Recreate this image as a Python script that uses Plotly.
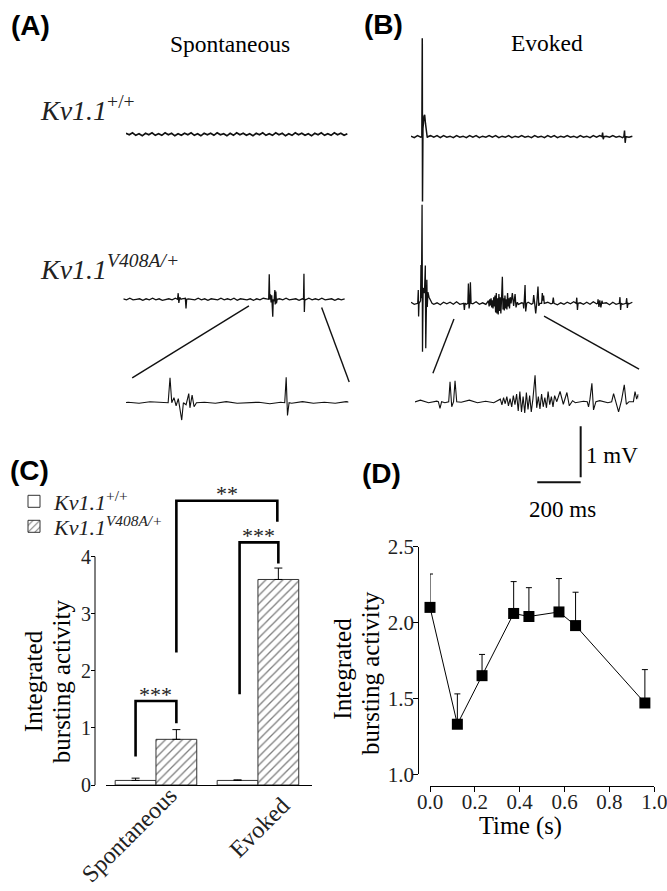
import plotly.graph_objects as go

W, H = 667, 891
SERIF = "Liberation Serif"
SANS = "Liberation Sans"
INK = "#111111"

# ---------------- Panel C data ----------------
groups = ["Spontaneous", "Evoked"]
group_pos = [0, 1]
wt_mean = [0.08, 0.08]
wt_sem = [0.04, 0.01]
mut_mean = [0.80, 3.60]
mut_sem = [0.17, 0.20]
genotype_labels = ["<i>Kv1.1</i><sup>+/+</sup>", "<i>Kv1.1<sup>V408A/+</sup></i>"]

# significance brackets
br_left_x = [-0.2, 0.82, 0.2]
br_left_y = [0.50, 1.59, 2.32]
br_top_y = [1.47, 4.25, 4.98]
br_right_x = [0.2, 1.2, 1.19]
br_right_y = [1.08, 3.88, 4.61]
br_label = ["***", "***", "**"]

# ---------------- Panel D data ----------------
time_s = [0.0, 0.122, 0.232, 0.373, 0.441, 0.575, 0.649, 0.958]
burst_mean = [2.10, 1.33, 1.65, 2.06, 2.04, 2.07, 1.98, 1.47]
burst_sem = [0.22, 0.20, 0.14, 0.21, 0.19, 0.22, 0.22, 0.22]

# ---------------- Panels A/B: recordings (ms, mV) ----------------
noise_step_ms = 15
wt_spont_noise = [
    0.02, -0.01, 0.03, -0.02, 0.01, -0.03, 0.02, -0.01, 0.03, -0.02,
    0.01, -0.02, 0.03, -0.01, 0.02, -0.03, 0.01, -0.02, 0.02, -0.01,
    0.03, -0.02, 0.01, -0.03, 0.02, -0.01, 0.02, -0.02, 0.03, -0.01,
    0.01, -0.03, 0.02, -0.02, 0.03, -0.01, 0.02, -0.02, 0.01, -0.03,
    0.02, -0.01, 0.03, -0.02, 0.01, -0.02, 0.03, -0.01, 0.02, -0.03,
    0.01, -0.02, 0.03, -0.01, 0.02, -0.02, 0.01, -0.03, 0.02, -0.01,
    0.03, -0.02, 0.01, -0.02, 0.03, -0.01, 0.02, -0.02, 0.01]
mut_spont_noise = [
    0.01, -0.01, 0.02, -0.01, 0.00, 0.01, -0.02, 0.01, -0.01, 0.02,
    -0.01, 0.01, -0.02, 0.00, 0.01, -0.01, 0.02, -0.01, 0.01, -0.02,
    0.01, 0.00, -0.01, 0.02, -0.01, 0.01, -0.02, 0.01, 0.00, -0.01,
    0.02, -0.01, 0.01, -0.01, 0.02, -0.02, 0.01, 0.00, -0.01, 0.01,
    -0.02, 0.01, -0.01, 0.02, 0.00, -0.01, 0.01, -0.02, 0.01, -0.01,
    0.02, -0.01, 0.00, 0.01, -0.02, 0.01, -0.01, 0.02, -0.01, 0.01,
    -0.01, 0.02, -0.01, 0.00, 0.01, -0.02, 0.01, -0.01, 0.01]
wt_evoked_noise = [
    0.01, -0.02, 0.02, -0.01, 0.01, -0.02, 0.02, -0.01, 0.02, -0.02,
    0.02, -0.01, 0.01, -0.02, 0.02, -0.01, 0.01, -0.02, 0.02, -0.01,
    0.02, -0.02, 0.01, -0.01, 0.02, -0.01, 0.02, -0.02, 0.01, -0.01,
    0.02, -0.02, 0.01, -0.01, 0.02, -0.01, 0.01, -0.02, 0.02, -0.01,
    0.01, -0.02, 0.02, -0.01, 0.02, -0.02, 0.01, -0.01, 0.02, -0.01,
    0.01, -0.02, 0.02, -0.01, 0.01, -0.02, 0.02, -0.01, 0.02, -0.02,
    0.01, -0.01, 0.02, -0.01, 0.01, -0.02, 0.02, -0.01, 0.01]
mut_evoked_noise = [
    0.02, -0.02, 0.01, -0.02, 0.03, -0.01, 0.02, -0.02, 0.01, -0.03,
    0.02, -0.01, 0.02, -0.02, 0.03, -0.02, 0.01, -0.02, 0.02, -0.01,
    0.03, -0.02, 0.01, -0.02, 0.02, -0.03, 0.01, -0.01, 0.02, -0.02,
    0.03, -0.01, 0.02, -0.02, 0.01, -0.03, 0.02, -0.02, 0.01, -0.02,
    0.03, -0.02, 0.02, -0.01, 0.02, -0.03, 0.01, -0.02, 0.02, -0.01,
    0.03, -0.02, 0.01, -0.02, 0.02, -0.02, 0.03, -0.01, 0.02, -0.02,
    0.01, -0.03, 0.02, -0.02, 0.01, -0.02, 0.03, -0.01, 0.02]

wt_spont_ev_t = []
wt_spont_ev_v = []
mut_spont_ev_t = [250, 253, 256, 260, 266, 286, 289, 292,
                  670, 672.6, 675, 678, 681, 684, 688.7, 691, 694.7, 698.4, 700, 703, 705.7, 709,
                  830.5, 832.5, 834.3, 836.5]
mut_spont_ev_v = [0.0, 0.12, -0.07, 0.04, 0.0, 0.02, -0.18, 0.0,
                  0.0, 0.49, 0.0, 0.10, -0.06, 0.08, -0.34, 0.0, -0.04, 0.18, -0.10, 0.15, -0.08, 0.0,
                  0.0, 0.50, -0.25, 0.0]
wt_evoked_ev_t = [50, 52, 53, 55, 60, 63, 67, 72, 78, 880, 883, 886, 889, 981, 984, 987, 990]
wt_evoked_ev_v = [0.0, 1.93, -1.27, 0.15, 0.40, 0.43, 0.25, 0.08, 0.0, 0.0, 0.08, -0.05, 0.0,
                  0.0, 0.12, -0.12, 0.0]
mut_evoked_ev_t = [31, 33.6, 35, 37, 44, 46, 48, 51, 53, 56, 62, 66, 68, 71, 73, 75, 78, 83, 90, 97,
                   243, 246, 249, 262, 264.5, 267.6, 271, 273.7, 276.8,
                   357, 360, 363, 366, 369, 372, 375, 378, 381, 384, 387, 390, 393, 396, 399, 402,
                   405, 408, 411, 414, 417, 421, 424, 427, 430, 433, 436, 439, 442, 445, 448, 451,
                   454, 457, 461,
                   467, 473, 479.6, 484, 490,
                   517, 519.4, 522, 525.6, 528.6, 533,
                   562, 565.5, 570, 574.7, 580, 585.2, 589, 594,
                   602, 605, 608, 611, 614,
                   652, 655.7, 659, 761, 764, 767, 770,
                   860, 862, 866, 870, 875, 880, 883,
                   960, 963, 966, 969, 991, 994, 997, 1000]
mut_evoked_ev_v = [0.0, 0.26, -0.26, 0.0, 0.05, 0.75, 0.10, 1.93, -0.95, 0.30, 0.20, 0.74, -0.88,
                   0.30, 0.46, -0.07, 0.22, 0.12, 0.04, 0.0,
                   0.0, -0.13, 0.0, 0.0, 0.39, -0.10, 0.0, 0.41, 0.0,
                   0.05, -0.06, 0.08, -0.04, 0.10, -0.08, 0.06, -0.10, 0.12, -0.06, 0.15, -0.18,
                   0.20, -0.20, 0.10, -0.22, 0.18, -0.15, 0.12, -0.20, 0.05, 0.52, -0.12, 0.10,
                   -0.14, 0.15, -0.10, 0.08, -0.12, 0.20, -0.06, 0.10, -0.10, 0.12, 0.0,
                   0.20, -0.05, 0.18, -0.08, 0.02,
                   0.0, -0.10, 0.05, 0.36, -0.16, 0.0,
                   0.0, 0.16, 0.0, -0.20, 0.02, 0.33, -0.05, 0.0,
                   0.0, 0.20, 0.05, 0.15, 0.0,
                   0.0, 0.11, 0.0, 0.0, 0.11, -0.13, 0.0,
                   0.0, 0.08, -0.07, 0.06, -0.08, 0.05, 0.0,
                   0.0, 0.12, -0.13, 0.0, 0.0, 0.10, -0.09, 0.0]

# zoomed windows (ms) and the connector ends (ms, mV) in the source trace frame
spont_zoom_ms = [612, 918]
evoked_zoom_ms = [200, 611]
spont_conn_t = [[579, 41], [914, 1041]]
spont_conn_v = [[-0.13, -1.54], [-0.16, -1.62]]
evoked_conn_t = [[198, 101], [613, 1051]]
evoked_conn_v = [[-0.31, -1.37], [-0.25, -1.29]]

scale_ms = 200
scale_mv = 1.0


def build_trace(noise, ev_t, ev_v):
    pts = list(zip(ev_t, ev_v))
    for i, v in enumerate(noise):
        t = i * noise_step_ms
        if all(abs(t - e) > 2.5 for e in ev_t):
            pts.append((t, v))
    pts.sort()
    return [p[0] for p in pts], [p[1] for p in pts]


# ---------------- layout helpers ----------------
PX_PER_MS = 43.4 / 200.0
PX_PER_MV = 51.0
layout_axes = {}


def names(i):
    s = "" if i == 1 else str(i)
    return "xaxis" + s, "yaxis" + s, "x" + s, "y" + s


def trace_axes(i, t_range, x_px_start, px_per_ms, v_range, base_px):
    xn, yn, xs, ys = names(i)
    x1 = x_px_start + (t_range[1] - t_range[0]) * px_per_ms
    ytop = base_px - v_range[1] * PX_PER_MV
    ybot = base_px - v_range[0] * PX_PER_MV
    layout_axes[xn] = dict(domain=[max(0, x_px_start / W), min(1, x1 / W)], range=t_range,
                           visible=False, anchor=ys, fixedrange=True)
    layout_axes[yn] = dict(domain=[max(0, 1 - ybot / H), min(1, 1 - ytop / H)], range=v_range,
                           visible=False, anchor=xs, fixedrange=True)
    return xs, ys


fig = go.Figure()
SRC_RANGE = [0, 1100]
V_RANGE = [-2.2, 2.2]

ax_a_wt = trace_axes(1, SRC_RANGE, 126.0, PX_PER_MS, V_RANGE, 134.3)
ax_a_mut = trace_axes(2, SRC_RANGE, 123.3, PX_PER_MS, V_RANGE, 299.3)
ax_a_exp = trace_axes(3, spont_zoom_ms, 126.0, 222.3 / (spont_zoom_ms[1] - spont_zoom_ms[0]), [-1, 1], 402.7)
ax_b_wt = trace_axes(4, SRC_RANGE, 411.0, PX_PER_MS, V_RANGE, 136.7)
ax_b_mut = trace_axes(5, SRC_RANGE, 411.0, PX_PER_MS, V_RANGE, 303.3)
ax_b_exp = trace_axes(6, evoked_zoom_ms, 415.0, 223.3 / (evoked_zoom_ms[1] - evoked_zoom_ms[0]), [-1, 1], 401.7)
ax_scale = trace_axes(7, [-10, 210], 535.1, PX_PER_MS, [-0.2, 1.4], 482.3)

recordings = [
    (ax_a_wt, build_trace(wt_spont_noise, wt_spont_ev_t, wt_spont_ev_v), 1.7),
    (ax_a_mut, build_trace(mut_spont_noise, mut_spont_ev_t, mut_spont_ev_v), 1.3),
    (ax_a_exp, build_trace(mut_spont_noise, mut_spont_ev_t, mut_spont_ev_v), 1.1),
    (ax_b_wt, build_trace(wt_evoked_noise, wt_evoked_ev_t, wt_evoked_ev_v), 1.5),
    (ax_b_mut, build_trace(mut_evoked_noise, mut_evoked_ev_t, mut_evoked_ev_v), 1.3),
    (ax_b_exp, build_trace(mut_evoked_noise, mut_evoked_ev_t, mut_evoked_ev_v), 1.1),
]
for (xs, ys), (tt, vv), lw in recordings:
    fig.add_trace(go.Scatter(x=tt, y=vv, xaxis=xs, yaxis=ys, mode="lines",
                             line=dict(color=INK, width=lw), showlegend=False, hoverinfo="skip"))

for (xs, ys), ct, cv in [(ax_a_mut, spont_conn_t, spont_conn_v), (ax_b_mut, evoked_conn_t, evoked_conn_v)]:
    for k in range(2):
        fig.add_trace(go.Scatter(x=ct[k], y=cv[k], xaxis=xs, yaxis=ys, mode="lines",
                                 line=dict(color=INK, width=1.4), showlegend=False, hoverinfo="skip"))

# scale bar
fig.add_trace(go.Scatter(x=[0, scale_ms], y=[0, 0], xaxis=ax_scale[0], yaxis=ax_scale[1], mode="lines",
                         line=dict(color=INK, width=2), showlegend=False, hoverinfo="skip"))
fig.add_trace(go.Scatter(x=[scale_ms, scale_ms], y=[0.1, 0.1 + scale_mv], xaxis=ax_scale[0], yaxis=ax_scale[1],
                         mode="lines", line=dict(color=INK, width=2), showlegend=False, hoverinfo="skip"))

# ---------------- Panel C ----------------
layout_axes["xaxis8"] = dict(domain=[106 / W, 312 / W], range=[-0.49, 1.53], anchor="y8",
                             showline=True, linecolor="black", linewidth=1, ticks="",
                             tickvals=group_pos, ticktext=groups, showticklabels=False,
                             showgrid=False, zeroline=False, fixedrange=True)
layout_axes["yaxis8"] = dict(domain=[1 - 785 / H, 1 - 476.7 / H], range=[0, 5.4], anchor="free",
                             position=95 / W, showline=False, ticks="outside", ticklen=4,
                             tickcolor="black", tickvals=[0, 1, 2, 3, 4], ticklabelstandoff=-4,
                             tickfont=dict(family=SERIF, size=20, color="#222"),
                             showgrid=False, zeroline=False, fixedrange=True)

fig.add_trace(go.Bar(x=[g - 0.2 for g in group_pos], y=wt_mean, width=0.4, xaxis="x8", yaxis="y8",
                     name=genotype_labels[0], legend="legend",
                     marker=dict(color="white", line=dict(color="#333", width=1)),
                     error_y=dict(type="data", array=wt_sem, arrayminus=[0, 0], symmetric=False,
                                  color="black", thickness=1, width=4),
                     hoverinfo="skip"))
fig.add_trace(go.Bar(x=[g + 0.2 for g in group_pos], y=mut_mean, width=0.4, xaxis="x8", yaxis="y8",
                     name=genotype_labels[1], legend="legend2",
                     marker=dict(color="white", line=dict(color="#333", width=1),
                                 pattern=dict(shape="/", fgcolor="#000", bgcolor="white", size=6,
                                              solidity=0.22)),
                     error_y=dict(type="data", array=mut_sem, arrayminus=[0, 0], symmetric=False,
                                  color="black", thickness=1, width=4),
                     hoverinfo="skip"))

for k in range(len(br_label)):
    fig.add_trace(go.Scatter(x=[br_left_x[k], br_left_x[k], br_right_x[k], br_right_x[k]],
                             y=[br_left_y[k], br_top_y[k], br_top_y[k], br_right_y[k]],
                             xaxis="x8", yaxis="y8", mode="lines",
                             line=dict(color="black", width=2.6), showlegend=False, hoverinfo="skip"))

# ---------------- Panel D ----------------
layout_axes["xaxis9"] = dict(domain=[430 / W, 654.3 / W], range=[0, 1], anchor="free",
                             position=1 - 785.7 / H, showline=True, linecolor="black", linewidth=1,
                             ticks="outside", ticklen=5, tickcolor="black", ticklabelstandoff=-8,
                             ticklabeloverflow="allow",
                             tickvals=[0, 0.2, 0.4, 0.6, 0.8, 1.0], tickformat=".1f",
                             tickfont=dict(family=SERIF, size=21, color="#222"),
                             showgrid=False, zeroline=False, fixedrange=True)
layout_axes["yaxis9"] = dict(domain=[1 - 774.3 / H, 1 - 546.7 / H], range=[1.0, 2.5], anchor="free",
                             position=418.3 / W, showline=True, linecolor="black", linewidth=1,
                             ticks="outside", ticklen=5, tickcolor="black", ticklabelstandoff=-5,
                             tickvals=[1.0, 1.5, 2.0, 2.5], tickformat=".1f",
                             tickfont=dict(family=SERIF, size=21, color="#222"),
                             showgrid=False, zeroline=False, fixedrange=True)
fig.add_trace(go.Scatter(x=time_s, y=burst_mean, xaxis="x9", yaxis="y9", mode="lines+markers",
                         line=dict(color="black", width=1),
                         marker=dict(symbol="square", size=11, color="black"),
                         error_y=dict(type="data", array=burst_sem, arrayminus=[0] * len(burst_sem),
                                      symmetric=False, color="black", thickness=1, width=3),
                         cliponaxis=False, showlegend=False, hoverinfo="skip"))

# ---------------- annotations ----------------
ann = []


def text(x, y, s, size, family=SERIF, xanchor="center", yanchor="middle", angle=0, color="black"):
    ann.append(dict(x=x / W, y=1 - y / H, xref="paper", yref="paper", text=s, showarrow=False,
                    xanchor=xanchor, yanchor=yanchor, textangle=angle,
                    font=dict(family=family, size=size, color=color)))


text(9, 26, "<b>(A)</b>", 28, SANS, xanchor="left")
text(362, 25, "<b>(B)</b>", 28, SANS, xanchor="left")
text(8, 470, "<b>(C)</b>", 28, SANS, xanchor="left")
text(360, 473, "<b>(D)</b>", 28, SANS, xanchor="left")
text(230, 44, "Spontaneous", 23.5)
text(547, 43, "Evoked", 23.5)
text(38, 108, genotype_labels[0], 28, xanchor="left", color="#222")
text(38, 268, genotype_labels[1], 28, xanchor="left", color="#222")
text(584, 455, "1 mV", 23, xanchor="left")
text(562, 510, "200 ms", 23)
text(33.5, 681.7, "Integrated", 25, angle=-90)
text(61.5, 681.7, "bursting activity", 25, angle=-90)
text(341.7, 669, "Integrated", 25, angle=-90)
text(370, 673, "bursting activity", 25, angle=-90)
text(520, 826, "Time (s)", 24.5)
# category labels of panel C (rotated)
text(129, 835, groups[0], 24, angle=-45, color="#222")
text(259, 828, groups[1], 24, angle=-45, color="#222")

for k in range(len(br_label)):
    ann.append(dict(x=(br_left_x[k] + br_right_x[k]) / 2, y=br_top_y[k] + 0.19, xref="x8", yref="y8",
                    text=br_label[k], showarrow=False, xanchor="center", yanchor="middle", yshift=-4,
                    font=dict(family=SERIF, size=22, color="#222")))

shapes = [dict(type="line", xref="paper", yref="y8", x0=95 / W, x1=95 / W, y0=0, y1=4,
               line=dict(color="black", width=1))]

fig.update_layout(
    width=W, height=H, margin=dict(l=0, r=0, t=0, b=0, autoexpand=False),
    paper_bgcolor="white", plot_bgcolor="rgba(0,0,0,0)",
    barmode="overlay", annotations=ann, shapes=shapes,
    legend=dict(x=14 / W, y=1 - 501.5 / H, xanchor="left", yanchor="middle",
                bgcolor="rgba(0,0,0,0)", font=dict(family=SERIF, size=22, color="#222")),
    legend2=dict(x=14 / W, y=1 - 526.5 / H, xanchor="left", yanchor="middle",
                 bgcolor="rgba(0,0,0,0)", font=dict(family=SERIF, size=22, color="#222")),
    showlegend=True,
    **layout_axes,
)

fig.write_html("out.html", config={"displayModeBar": False},
               post_script="document.body.style.margin='0px';document.body.style.overflow='hidden';")
